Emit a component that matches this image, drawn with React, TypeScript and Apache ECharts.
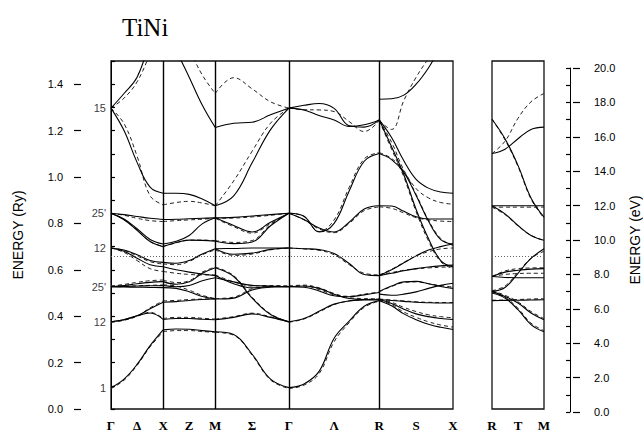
import { useEffect, useRef } from 'react';
import * as echarts from 'echarts';

// ---- k-path (units of 2π/a) ----
const mainTickK = [0, 0.5, 1, 1.5, 2, 2.7071, 3.4142, 4.2803, 5.1463, 5.8534, 6.5605];
const mainTickLabels = ['Γ', 'Δ', 'X', 'Z', 'M', 'Σ', 'Γ', 'Λ', 'R', 'S', 'X'];
const mainSymK = [1, 2, 3.4142, 5.1463];
const sideTickK = [0, 0.5, 1];
const sideTickLabels = ['R', 'T', 'M'];
const segGX = [0, 1];
const segXM = [1, 2];
const segMG = [2, 3.4142];
const segGR = [3.4142, 5.1463];
const segRX = [5.1463, 6.5605];
const segRM = [0, 1];

// ---- levels / labels ----
const fermiRy = [0.6645, 0.656];
const gammaLabels = ['1', '12', "25'", '12', "25'", '15'];
const gammaRy = [0.092, 0.376, 0.524, 0.694, 0.844, 1.297];
const ryMajorTicks = [0, 0.2, 0.4, 0.6, 0.8, 1.0, 1.2, 1.4];
const evMajorTicks = [0, 2, 4, 6, 8, 10, 12, 14, 16, 18, 20];

// ---- bands (Ry), evenly sampled along each segment ----
const gxSolid = [
  [0.092, 0.129, 0.192, 0.273, 0.341],
  [0.376, 0.385, 0.402, 0.414, 0.386],
  [0.376, 0.385, 0.402, 0.432, 0.46],
  [0.527, 0.532, 0.54, 0.546, 0.549],
  [0.527, 0.528, 0.53, 0.531, 0.532],
  [0.527, 0.526, 0.525, 0.524, 0.523],
  [0.694, 0.685, 0.665, 0.64, 0.632],
  [0.694, 0.68, 0.65, 0.622, 0.613],
  [0.844, 0.819, 0.777, 0.731, 0.711],
  [0.844, 0.816, 0.77, 0.722, 0.7],
  [0.844, 0.838, 0.83, 0.822, 0.817],
  [1.297, 1.2, 1.063, 0.956, 0.93],
  [1.297, 1.36, 1.43, 1.58, 1.7],
];
const gxDashed = [
  [0.088, 0.124, 0.188, 0.268, 0.333],
  [0.374, 0.383, 0.4, 0.417, 0.39],
  [0.374, 0.383, 0.4, 0.436, 0.466],
  [0.53, 0.537, 0.546, 0.553, 0.556],
  [0.53, 0.53, 0.531, 0.533, 0.535],
  [0.694, 0.684, 0.66, 0.635, 0.625],
  [0.694, 0.675, 0.64, 0.605, 0.593],
  [0.844, 0.816, 0.772, 0.722, 0.701],
  [0.844, 0.835, 0.822, 0.812, 0.808],
  [1.297, 1.23, 1.09, 0.919, 0.88],
  [1.297, 1.34, 1.41, 1.53, 1.65],
];
const xmSolid = [
  [0.341, 0.345, 0.344, 0.338, 0.333],
  [0.386, 0.39, 0.39, 0.387, 0.385],
  [0.46, 0.463, 0.468, 0.472, 0.474],
  [0.523, 0.52, 0.505, 0.485, 0.474],
  [0.532, 0.527, 0.532, 0.553, 0.566],
  [0.549, 0.538, 0.548, 0.585, 0.609],
  [0.613, 0.6, 0.59, 0.582, 0.575],
  [0.632, 0.628, 0.64, 0.668, 0.691],
  [0.7, 0.718, 0.728, 0.727, 0.723],
  [0.711, 0.723, 0.748, 0.798, 0.824],
  [0.817, 0.818, 0.82, 0.822, 0.824],
  [0.93, 0.93, 0.925, 0.905, 0.876],
  [1.7, 1.55, 1.43, 1.31, 1.213],
];
const xmDashed = [
  [0.333, 0.338, 0.338, 0.334, 0.33],
  [0.39, 0.395, 0.395, 0.391, 0.388],
  [0.466, 0.468, 0.472, 0.474, 0.476],
  [0.535, 0.53, 0.512, 0.49, 0.476],
  [0.556, 0.545, 0.553, 0.59, 0.612],
  [0.593, 0.585, 0.58, 0.578, 0.578],
  [0.625, 0.622, 0.636, 0.665, 0.686],
  [0.701, 0.716, 0.728, 0.728, 0.726],
  [0.808, 0.812, 0.815, 0.818, 0.822],
  [0.88, 0.89, 0.895, 0.888, 0.876],
  [1.75, 1.65, 1.55, 1.44, 1.36],
];
const mgSolid = [
  [0.333, 0.321, 0.236, 0.129, 0.092],
  [0.385, 0.395, 0.41, 0.395, 0.376],
  [0.609, 0.571, 0.478, 0.407, 0.376],
  [0.474, 0.478, 0.513, 0.525, 0.527],
  [0.575, 0.54, 0.522, 0.528, 0.527],
  [0.566, 0.548, 0.533, 0.53, 0.527],
  [0.691, 0.692, 0.694, 0.694, 0.694],
  [0.691, 0.667, 0.672, 0.688, 0.694],
  [0.723, 0.713, 0.72, 0.79, 0.844],
  [0.824, 0.791, 0.763, 0.805, 0.844],
  [0.824, 0.826, 0.832, 0.838, 0.844],
  [0.876, 0.919, 1.061, 1.204, 1.297],
  [1.213, 1.232, 1.236, 1.268, 1.297],
];
const mgDashed = [
  [0.33, 0.318, 0.232, 0.125, 0.088],
  [0.388, 0.398, 0.413, 0.397, 0.374],
  [0.612, 0.575, 0.482, 0.41, 0.374],
  [0.476, 0.482, 0.518, 0.528, 0.53],
  [0.578, 0.548, 0.53, 0.532, 0.53],
  [0.686, 0.662, 0.668, 0.686, 0.694],
  [0.726, 0.718, 0.726, 0.795, 0.844],
  [0.822, 0.786, 0.758, 0.8, 0.844],
  [0.822, 0.823, 0.828, 0.835, 0.844],
  [0.876, 0.983, 1.111, 1.232, 1.297],
  [1.36, 1.428, 1.38, 1.324, 1.297],
];
const grSolid = [
  [0.092, 0.108, 0.162, 0.305, 0.379, 0.443, 0.467],
  [0.376, 0.39, 0.421, 0.452, 0.466, 0.47, 0.471],
  [0.527, 0.525, 0.509, 0.488, 0.484, 0.492, 0.502],
  [0.527, 0.53, 0.52, 0.495, 0.476, 0.472, 0.471],
  [0.694, 0.691, 0.687, 0.67, 0.627, 0.58, 0.575],
  [0.844, 0.817, 0.78, 0.763, 0.805, 0.862, 0.876],
  [0.844, 0.831, 0.763, 0.8, 0.94, 1.068, 1.101],
  [1.297, 1.309, 1.317, 1.296, 1.221, 1.215, 1.246],
  [1.297, 1.289, 1.265, 1.246, 1.218, 1.225, 1.246],
];
const grDashed = [
  [0.088, 0.103, 0.152, 0.29, 0.372, 0.438, 0.465],
  [0.374, 0.388, 0.418, 0.45, 0.466, 0.472, 0.474],
  [0.53, 0.53, 0.515, 0.492, 0.486, 0.495, 0.505],
  [0.53, 0.534, 0.522, 0.498, 0.48, 0.476, 0.475],
  [0.694, 0.69, 0.684, 0.665, 0.622, 0.585, 0.578],
  [0.844, 0.815, 0.776, 0.76, 0.8, 0.855, 0.871],
  [0.844, 0.83, 0.765, 0.815, 0.955, 1.078, 1.105],
  [1.297, 1.29, 1.289, 1.282, 1.239, 1.196, 1.243],
];
const rxSolid = [
  [0.467, 0.445, 0.41, 0.385, 0.365, 0.352, 0.343],
  [0.471, 0.455, 0.43, 0.41, 0.398, 0.39, 0.386],
  [0.471, 0.468, 0.464, 0.46, 0.458, 0.457, 0.457],
  [0.495, 0.49, 0.495, 0.505, 0.52, 0.533, 0.542],
  [0.507, 0.53, 0.548, 0.55, 0.54, 0.528, 0.52],
  [0.575, 0.6, 0.63, 0.66, 0.685, 0.7, 0.711],
  [0.575, 0.585, 0.596, 0.605, 0.612, 0.617, 0.62],
  [1.246, 1.13, 1.01, 0.86, 0.735, 0.64, 0.613],
  [1.101, 1.075, 1.02, 0.92, 0.81, 0.73, 0.711],
  [0.876, 0.875, 0.852, 0.829, 0.819, 0.819, 0.819],
  [1.246, 1.17, 1.07, 0.99, 0.952, 0.935, 0.93],
  [1.335, 1.337, 1.353, 1.4, 1.47, 1.56, 1.64],
];
const rxDashed = [
  [0.469, 0.45, 0.418, 0.395, 0.376, 0.362, 0.353],
  [0.474, 0.46, 0.438, 0.42, 0.406, 0.398, 0.393],
  [0.474, 0.47, 0.466, 0.462, 0.46, 0.459, 0.459],
  [0.505, 0.528, 0.545, 0.548, 0.54, 0.532, 0.526],
  [0.578, 0.602, 0.632, 0.66, 0.678, 0.69, 0.694],
  [0.578, 0.588, 0.598, 0.604, 0.608, 0.611, 0.613],
  [1.243, 1.12, 1.0, 0.85, 0.725, 0.635, 0.605],
  [1.105, 1.08, 1.025, 0.925, 0.815, 0.735, 0.705],
  [0.871, 0.865, 0.845, 0.825, 0.815, 0.81, 0.808],
  [1.243, 1.15, 1.03, 0.95, 0.91, 0.89, 0.883],
  [1.243, 1.205, 1.33, 1.43, 1.51, 1.58, 1.64],
];
const rmSolid = [
  [0.467, 0.468, 0.469, 0.47, 0.471],
  [0.5, 0.478, 0.428, 0.364, 0.333],
  [0.507, 0.485, 0.457, 0.414, 0.385],
  [0.507, 0.524, 0.585, 0.649, 0.691],
  [0.571, 0.567, 0.566, 0.566, 0.566],
  [0.571, 0.59, 0.598, 0.603, 0.605],
  [0.876, 0.841, 0.791, 0.748, 0.727],
  [0.876, 0.876, 0.876, 0.876, 0.876],
  [1.249, 1.165, 1.05, 0.91, 0.827],
  [1.101, 1.12, 1.165, 1.205, 1.215],
];
const rmDashed = [
  [0.469, 0.47, 0.472, 0.474, 0.476],
  [0.503, 0.482, 0.434, 0.37, 0.338],
  [0.51, 0.49, 0.462, 0.42, 0.39],
  [0.51, 0.53, 0.59, 0.65, 0.68],
  [0.571, 0.58, 0.584, 0.585, 0.585],
  [0.571, 0.595, 0.605, 0.608, 0.609],
  [0.87, 0.838, 0.789, 0.748, 0.727],
  [0.87, 0.87, 0.87, 0.87, 0.87],
  [1.249, 1.16, 1.045, 0.905, 0.822],
  [1.101, 1.154, 1.253, 1.324, 1.36],
];

const SANS = 'Liberation Sans, Arial, sans-serif';
const SERIF = 'Liberation Serif, Times New Roman, serif';

function bandSeries(seg: number[], bands: number[][], dashed: boolean, panel: number) {
  return bands.map((b) => ({
    type: 'line',
    xAxisIndex: panel === 0 ? 0 : 1,
    yAxisIndex: panel === 0 ? 0 : 2,
    data: b.map((e, i) => [seg[0] + ((seg[1] - seg[0]) * i) / (b.length - 1), e]),
    symbol: 'none',
    showSymbol: false,
    smooth: 0.4,
    silent: true,
    clip: true,
    z: dashed ? 3 : 4,
    lineStyle: dashed
      ? { color: '#222', width: 1, type: [4, 3] }
      : { color: '#000', width: 1.1, type: 'solid' },
  }));
}

function labelFor(ticks: number[], labels: string[]) {
  return (v: number) => {
    const i = ticks.findIndex((t) => Math.abs(t - v) < 1e-3);
    return i >= 0 ? labels[i] : '';
  };
}

export default function App() {
  const ref = useRef<HTMLDivElement>(null);
  useEffect(() => {
    if (!ref.current) return;
    const chart = echarts.init(ref.current, null, { renderer: 'svg' });

    const fermiLines = fermiRy.map((f) => ({ yAxis: f }));
    const markSeries = (panel: number, withSym: boolean) => ({
      type: 'line',
      xAxisIndex: panel === 0 ? 0 : 1,
      yAxisIndex: panel === 0 ? 0 : 2,
      data: [[0, -10]],
      symbol: 'none',
      lineStyle: { width: 0 },
      silent: true,
      markLine: {
        silent: true,
        symbol: ['none', 'none'],
        label: { show: false },
        data: [
          ...(withSym ? mainSymK.map((k) => ({ xAxis: k, lineStyle: { color: '#000', width: 1.4, type: 'solid' } })) : []),
          ...fermiLines.map((f) => ({ ...f, lineStyle: { color: '#666', width: 1, type: [1, 2] } })),
        ],
      },
    });

    const series: any[] = [
      markSeries(0, true),
      markSeries(1, false),
      ...bandSeries(segGX, gxSolid, false, 0),
      ...bandSeries(segGX, gxDashed, true, 0),
      ...bandSeries(segXM, xmSolid, false, 0),
      ...bandSeries(segXM, xmDashed, true, 0),
      ...bandSeries(segMG, mgSolid, false, 0),
      ...bandSeries(segMG, mgDashed, true, 0),
      ...bandSeries(segGR, grSolid, false, 0),
      ...bandSeries(segGR, grDashed, true, 0),
      ...bandSeries(segRX, rxSolid, false, 0),
      ...bandSeries(segRX, rxDashed, true, 0),
      ...bandSeries(segRM, rmSolid, false, 1),
      ...bandSeries(segRM, rmDashed, true, 1),
      {
        type: 'scatter',
        xAxisIndex: 0,
        yAxisIndex: 0,
        silent: true,
        symbolSize: 2,
        itemStyle: { color: 'rgba(0,0,0,0)' },
        clip: false,
        z: 10,
        data: gammaRy.map((e, i) => ({ value: [0, e], name: gammaLabels[i] })),
        label: {
          show: true,
          position: 'left',
          distance: 4,
          formatter: '{b}',
          color: '#000',
          fontSize: 11,
          fontFamily: SANS,
        },
      },
    ];

    const xLabelStyle = {
      color: '#000',
      fontSize: 13,
      fontWeight: 'bold',
      fontFamily: SERIF,
      margin: 10,
    };

    chart.setOption({
      animation: false,
      title: {
        text: 'TiNi',
        left: 117,
        top: 10,
        textStyle: { fontFamily: SERIF, fontSize: 25, fontWeight: 'normal', color: '#000' },
      },
      grid: [
        { left: 111, top: 61, width: 342, height: 351, show: true, borderColor: '#111', borderWidth: 1.3, backgroundColor: 'transparent' },
        { left: 492, top: 61, width: 52, height: 351, show: true, borderColor: '#111', borderWidth: 1.3, backgroundColor: 'transparent' },
        { left: 570, top: 68, width: 12, height: 344, show: false },
      ],
      xAxis: [
        {
          type: 'value', gridIndex: 0, min: 0, max: 6.5605,
          axisLine: { show: false }, axisTick: { show: false }, splitLine: { show: false },
          axisLabel: { ...xLabelStyle, customValues: mainTickK, formatter: labelFor(mainTickK, mainTickLabels) },
        },
        {
          type: 'value', gridIndex: 1, min: 0, max: 1,
          axisLine: { show: false }, axisTick: { show: false }, splitLine: { show: false },
          axisLabel: { ...xLabelStyle, customValues: sideTickK, formatter: labelFor(sideTickK, sideTickLabels) },
        },
        { type: 'value', gridIndex: 2, min: 0, max: 1, show: false },
      ],
      yAxis: [
        {
          type: 'value', gridIndex: 0, position: 'left', offset: 37, min: 0, max: 1.5, interval: 0.1,
          axisLine: { show: true, lineStyle: { color: '#000', width: 1 } },
          axisTick: { show: true, inside: true, length: 4, lineStyle: { color: '#000', width: 1.2 } },
          splitLine: { show: false },
          axisLabel: {
            color: '#000', fontSize: 11, fontFamily: SANS, margin: 11,
            formatter: (v: number) => (Math.round(v * 10) % 2 === 0 ? v.toFixed(1) : ''),
          },
          name: 'ENERGY (Ry)', nameLocation: 'middle', nameRotate: 90, nameGap: 49,
          nameTextStyle: { color: '#000', fontSize: 14, fontFamily: SANS },
        },
        {
          type: 'value', gridIndex: 0, position: 'left', offset: 37, min: 0, max: 1.5,
          axisLine: { show: false },
          axisTick: { show: true, inside: true, length: 7, customValues: ryMajorTicks, lineStyle: { color: '#000', width: 1.2 } },
          axisLabel: { show: false }, splitLine: { show: false },
        },
        { type: 'value', gridIndex: 1, min: 0, max: 1.5, show: false, splitLine: { show: false } },
        {
          type: 'value', gridIndex: 2, position: 'right', min: 0, max: 20, interval: 1,
          axisLine: { show: true, lineStyle: { color: '#000', width: 1 } },
          axisTick: { show: true, inside: true, length: 4, lineStyle: { color: '#000', width: 1.2 } },
          splitLine: { show: false },
          axisLabel: {
            color: '#000', fontSize: 11, fontFamily: SANS, margin: 14,
            formatter: (v: number) => (Math.round(v) % 2 === 0 ? v.toFixed(1) : ''),
          },
          name: 'ENERGY (eV)', nameLocation: 'middle', nameRotate: 90, nameGap: 48,
          nameTextStyle: { color: '#000', fontSize: 14, fontFamily: SANS },
        },
        {
          type: 'value', gridIndex: 2, position: 'right', min: 0, max: 20,
          axisLine: { show: false },
          axisTick: { show: true, inside: true, length: 7, customValues: evMajorTicks, lineStyle: { color: '#000', width: 1.2 } },
          axisLabel: { show: false }, splitLine: { show: false },
        },
      ],
      series,
    });
    return () => chart.dispose();
  }, []);
  return <div ref={ref} style={{ position: 'absolute', left: 0, top: 0, width: 643, height: 432, background: '#fff' }} />;
}
